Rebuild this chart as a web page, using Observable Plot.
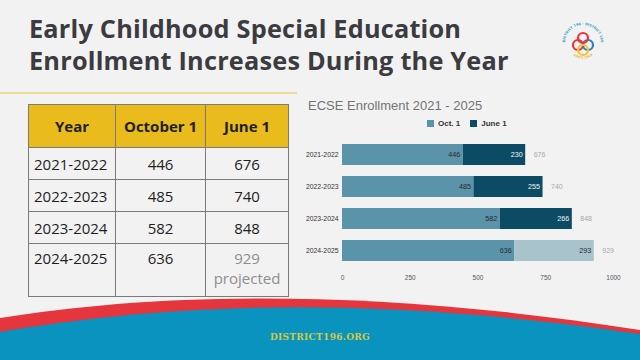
<!DOCTYPE html>
<html>
<head>
<meta charset="utf-8">
<script src="https://cdn.jsdelivr.net/npm/d3@7"></script>
<script src="https://cdn.jsdelivr.net/npm/@observablehq/plot@0.6"></script>
<style>
  html, body { margin: 0; padding: 0; }
  body { width: 640px; height: 360px; background: #f2f2f2; position: relative; overflow: hidden; font-family: "Open Sans", sans-serif; }
  .title { position: absolute; left: 29px; top: 12px; font-family: "Open Sans", sans-serif; font-weight: 700; font-size: 25.3px; line-height: 32px; color: #3b3b40; letter-spacing: 0.2px; }
  .rule { position: absolute; left: 0; top: 92px; width: 297px; height: 2px; background: #efd993; }
  table { position: absolute; left: 28px; top: 104px; border-collapse: collapse; font-family: "Open Sans", sans-serif; color: #1e1e1e; }
  th, td { border: 1.2px solid #7a7a7a; padding: 0; font-size: 15px; }
  th { background: #e9bb1c; font-weight: 700; height: 42px; }
  td { height: 31px; text-align: center; }
  td.yr { text-align: left; padding-left: 5px; }
  tr.last td { height: 48px; vertical-align: top; padding-top: 4px; line-height: 20px; }
  .proj { color: #8e8e8e; }
  .ctitle { position: absolute; left: 308px; top: 98px; font-family: "Liberation Sans", Arial, sans-serif; font-size: 13px; color: #747474; }
  .legend { position: absolute; left: 427px; top: 119px; font-family: "Liberation Sans", Arial, sans-serif; font-size: 8px; font-weight: 700; color: #333; display: flex; gap: 10px; }
  .legend span { display: flex; align-items: center; gap: 4px; }
  .legend i { display: inline-block; width: 7px; height: 7px; }
  #chart { position: absolute; left: 296px; top: 136px; }
  .footer { position: absolute; left: 0; top: 0; }
  .url { position: absolute; left: 0; width: 640px; top: 332px; text-align: center; font-family: "DejaVu Serif", serif; font-weight: 700; font-size: 9px; color: #d3c844; letter-spacing: 0.3px; }
  .logo { position: absolute; left: 560px; top: 20px; overflow: visible; }
</style>
</head>
<body>
<script>
// ---- data ----
const years = ["2021-2022", "2022-2023", "2023-2024", "2024-2025"];
const october1 = [446, 485, 582, 636];
const june1 = [676, 740, 848, 929];
const projected = [false, false, false, true];
const xTicks = [0, 250, 500, 750, 1000];
const seriesNames = ["Oct. 1", "June 1"];
const headers = ["Year", "October 1", "June 1"];
const slideTitle = ["Early Childhood Special Education", "Enrollment Increases During the Year"];
const chartTitle = "ECSE Enrollment 2021 - 2025";
const footerText = "DISTRICT196.ORG";

const colors = { oct: "#5b93ab", june: "#0b4b63", proj: "#a8c3cb" };

// ---- slide title ----
const t = document.createElement("div");
t.className = "title";
t.innerHTML = slideTitle.join("<br>");
document.body.appendChild(t);
const rule = document.createElement("div");
rule.className = "rule";
document.body.appendChild(rule);

// ---- table ----
const table = document.createElement("table");
const widths = [86, 89, 82];
let html = "<tr>" + headers.map((h, i) => `<th style="width:${widths[i]}px">${h}</th>`).join("") + "</tr>";
years.forEach((y, i) => {
  const last = i === years.length - 1;
  const j = projected[i] ? `<span class="proj">${june1[i]}<br>projected</span>` : june1[i];
  html += `<tr class="${last ? "last" : ""}"><td class="yr">${y}</td><td>${october1[i]}</td><td>${j}</td></tr>`;
});
table.innerHTML = html;
document.body.appendChild(table);

// ---- chart title & legend ----
const ct = document.createElement("div");
ct.className = "ctitle";
ct.textContent = chartTitle;
document.body.appendChild(ct);
const lg = document.createElement("div");
lg.className = "legend";
lg.innerHTML = `<span><i style="background:${colors.oct}"></i>${seriesNames[0]}</span><span><i style="background:${colors.june}"></i>${seriesNames[1]}</span>`;
document.body.appendChild(lg);

// ---- chart ----
const rows = years.map((y, i) => ({
  year: y, oct: october1[i], june: june1[i], inc: june1[i] - october1[i], proj: projected[i]
}));

const chart = Plot.plot({
  width: 334,
  height: 151,
  marginLeft: 46,
  marginRight: 17,
  marginTop: 3,
  marginBottom: 20,
  style: { background: "transparent", fontFamily: "Liberation Sans, Arial, sans-serif", fontSize: "7px", color: "#333" },
  x: { domain: [0, 1000], label: null },
  y: { domain: years, paddingInner: 0.34, paddingOuter: 0.17, label: null },
  marks: [
    Plot.barX(rows, { y: "year", x1: 0, x2: "oct", fill: colors.oct }),
    Plot.barX(rows, { y: "year", x1: "oct", x2: "june", fill: d => d.proj ? colors.proj : colors.june }),
    Plot.text(rows, { y: "year", x: "oct", text: d => String(d.oct), textAnchor: "end", dx: -3, fill: "#2a2a2a", fontSize: 7.2 }),
    Plot.text(rows, { y: "year", x: "june", text: d => String(d.inc), textAnchor: "end", dx: -3, fill: d => d.proj ? "#2a2a2a" : "#f4f4f4", fontSize: 7.2 }),
    Plot.text(rows, { y: "year", x: "june", text: d => String(d.june), textAnchor: "start", dx: 8, fill: "#a8a8a8", fontSize: 7 }),
    Plot.axisY({ tickSize: 0, tickPadding: 4, fontSize: 6.8, fill: "#333" }),
    Plot.axisX({ ticks: xTicks, tickFormat: d => String(d), tickSize: 0, tickPadding: 8, fontSize: 6.5, fill: "#555" })
  ]
});
chart.id = "chart";
document.body.appendChild(chart);

// ---- footer ----
const ns = "http://www.w3.org/2000/svg";
const fsvg = document.createElementNS(ns, "svg");
fsvg.setAttribute("class", "footer");
fsvg.setAttribute("width", 640);
fsvg.setAttribute("height", 360);
fsvg.innerHTML = `
  <path d="M0,318 C150,294 360,286 640,330 L640,360 L0,360 Z" fill="#e5353d"/>
  <path d="M0,332 C160,305 360,293 640,334 L640,360 L0,360 Z" fill="#0a93bf"/>`;
document.body.appendChild(fsvg);
const url = document.createElement("div");
url.className = "url";
url.textContent = footerText;
document.body.appendChild(url);

// ---- logo ----
const logo = document.createElementNS(ns, "svg");
logo.setAttribute("class", "logo");
logo.setAttribute("width", 46);
logo.setAttribute("height", 46);
logo.innerHTML = `
  <path id="arcT" d="M10.3,35.7 A18,18 0 1 1 35.7,35.7" fill="none"/>
  <path id="arcB" d="M12,34 A15,15 0 0 0 34,34" fill="none"/>
  <text font-size="3.4" font-family="DejaVu Sans" font-weight="700" fill="#2aa3b8"><textPath href="#arcT" startOffset="50%" text-anchor="middle">DISTRICT 196 · DISTRICT 196</textPath></text>
  <text font-size="3.2" font-family="DejaVu Sans" font-weight="700" fill="#f0b63a"><textPath href="#arcB" startOffset="50%" text-anchor="middle">SINCE 1949</textPath></text>
  <circle cx="18" cy="25" r="5" fill="none" stroke="#e5353d" stroke-width="2.2"/>
  <circle cx="28" cy="25" r="5" fill="none" stroke="#2a7fc1" stroke-width="2.2"/>
  <circle cx="23" cy="18" r="5" fill="none" stroke="#e5353d" stroke-width="2.2"/>
  <circle cx="23" cy="30" r="5" fill="none" stroke="#f2c230" stroke-width="2.2"/>`;
document.body.appendChild(logo);
</script>
</body>
</html>
